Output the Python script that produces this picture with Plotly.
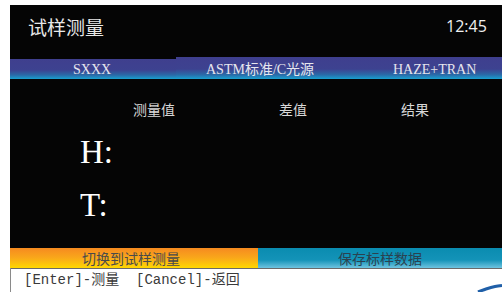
import plotly.graph_objects as go

# ---- content ----
title_text = "试样测量"
clock_text = "12:45"
status_items = ["SXXX", "ASTM标准/C光源", "HAZE+TRAN"]
column_headers = ["测量值", "差值", "结果"]
row_labels = ["H:", "T:"]
button_labels = ["切换到试样测量", "保存标样数据"]
hint_text = "[Enter]-测量  [Cancel]-返回"

W, H = 502, 292
SERIF = "Liberation Serif, Noto Sans CJK SC, serif"
SANS = "Noto Sans CJK SC, Noto Sans, sans-serif"

fig = go.Figure()

def rect(x0, y0, x1, y1, color=None, grad=None):
    tr = dict(x=[x0, x1, x1, x0, x0], y=[y0, y0, y1, y1, y0], mode="lines",
              fill="toself", line=dict(width=0), hoverinfo="skip", showlegend=False)
    if grad:
        tr["fillgradient"] = dict(type="vertical", colorscale=grad, start=y0, stop=y1)
    else:
        tr["fillcolor"] = color
    fig.add_trace(go.Scatter(**tr))

# black screen
rect(10, 5, 502, 248, "#050505")
# status bar (two slightly offset segments)
blue_grad = [[0, "#3f3f8e"], [0.55, "#3d4290"], [0.8, "#2a6aa8"], [1, "#18a0d0"]]
rect(10, 59, 176, 79, grad=blue_grad)
rect(176, 57, 502, 79, grad=blue_grad)
# bottom buttons
rect(10, 248, 258, 268, grad=[[0, "#f68a20"], [0.5, "#f9a81a"], [1, "#ffd800"]])
rect(258, 248, 502, 268, grad=[[0, "#0a8cb0"], [0.6, "#1493b8"], [1, "#6ec4e0"]])
# grey separator line and left border
fig.add_trace(go.Scatter(x=[10, 502], y=[268.5, 268.5], mode="lines",
                         line=dict(color="#6a6a6a", width=1.2), hoverinfo="skip", showlegend=False))
fig.add_trace(go.Scatter(x=[10.5, 10.5], y=[268, 292], mode="lines",
                         line=dict(color="#8a8a8a", width=1), hoverinfo="skip", showlegend=False))
# logo arc bottom right
fig.add_trace(go.Scatter(x=[478, 486, 495, 502], y=[292, 289, 286.5, 285.5], mode="lines",
                         line=dict(color="#1f5fa8", width=3, shape="spline"),
                         hoverinfo="skip", showlegend=False))

ann = []
def text(x, y, s, size, color="#ffffff", family=SANS, anchor="center"):
    ann.append(dict(x=x, y=y, text=s, showarrow=False, xanchor=anchor, yanchor="middle",
                    font=dict(size=size, color=color, family=family)))

text(26, 26, title_text, 19, "#e8e8e8", anchor="left")
text(489, 26, clock_text, 16, "#f0f0f0", family="Open Sans, sans-serif", anchor="right")

for s, x in zip(status_items, [92, 260, 434]):
    text(x, 69, s, 14, "#e6e6ee", family=SERIF)

for s, x in zip(column_headers, [154, 293, 415]):
    text(x, 109, s, 14, "#d8d8d8")

for s, y in zip(row_labels, [152, 205]):
    text(78, y, s, 33, "#ffffff", family=SERIF, anchor="left")

text(131, 258, button_labels[0], 14, "#4a4a4a")
text(380, 258, button_labels[1], 14, "#2a4250")
text(22, 280, hint_text, 14, "#3a3a3a",
     family="Liberation Mono, Noto Sans CJK SC, monospace", anchor="left")

fig.update_layout(
    width=W, height=H, margin=dict(l=0, r=0, t=0, b=0),
    paper_bgcolor="#ffffff", plot_bgcolor="#ffffff",
    xaxis=dict(range=[0, W], visible=False, fixedrange=True),
    yaxis=dict(range=[H, 0], visible=False, fixedrange=True),
    annotations=ann, showlegend=False,
)
fig.write_html("out.html", config={"displayModeBar": False},
               post_script="document.body.style.margin='0';document.body.style.overflow='hidden';")
